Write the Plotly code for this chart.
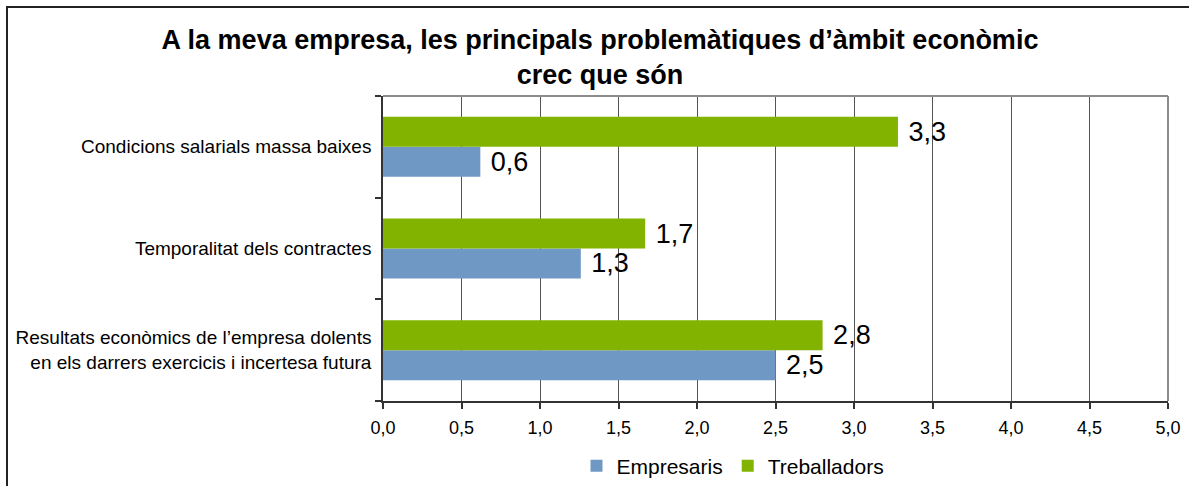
import plotly.graph_objects as go

# Categories listed bottom-to-top (Plotly category axes grow upward)
categories = [
    "Resultats econòmics de l’empresa dolents<br>en els darrers exercicis i incertesa futura",
    "Temporalitat dels contractes",
    "Condicions salarials massa baixes",
]
empresaris = [2.50, 1.26, 0.62]
treballadors = [2.80, 1.67, 3.28]
series_names = ["Empresaris", "Treballadors"]
x_ticks = [0, 0.5, 1, 1.5, 2, 2.5, 3, 3.5, 4, 4.5, 5]

FONT = "Liberation Sans, Arial, sans-serif"
W, H = 1189, 486
ML, MR, MT, MB = 383, 21, 96, 85
PW, PH = W - ML - MR, H - MT - MB

blue = "#7098c4"
green = "#82b300"

fig = go.Figure()
for name, vals, col in [(series_names[0], empresaris, blue), (series_names[1], treballadors, green)]:
    fig.add_trace(go.Bar(
        y=categories, x=vals, name=name, orientation="h",
        marker=dict(color=col, line=dict(width=0)),
        texttemplate="\u00a0%{x:.1f}", textposition="outside",
        textfont=dict(family=FONT, size=27, color="#000000"),
        constraintext="none", cliponaxis=False,
    ))

def px_to_paper_x(px):
    return (px - ML) / PW

def px_to_paper_y(py):
    return (H - MB - py) / PH

shapes = [
    # outer chart border (top & left visible; others fall outside the image)
    dict(type="rect", xref="paper", yref="paper",
         x0=px_to_paper_x(7), x1=px_to_paper_x(W + 10),
         y0=px_to_paper_y(H + 10), y1=px_to_paper_y(7),
         line=dict(color="#222222", width=2), fillcolor="rgba(0,0,0,0)", layer="above"),
    # plot-area border top and right
    dict(type="line", xref="paper", yref="paper", x0=0, x1=1, y0=1, y1=1,
         line=dict(color="#8c8c8c", width=2), layer="above"),
    dict(type="line", xref="paper", yref="paper", x0=1, x1=1, y0=0, y1=1,
         line=dict(color="#8c8c8c", width=2), layer="above"),
]

fig.update_layout(
    width=W, height=H,
    margin=dict(l=ML, r=MR, t=MT, b=MB, autoexpand=False),
    paper_bgcolor="white", plot_bgcolor="white",
    separators=", ",
    barmode="group", bargap=0.41, bargroupgap=0,
    font=dict(family=FONT, color="#000000"),
    title=dict(
        text="<b>A la meva empresa, les principals problemàtiques d’àmbit econòmic<br>crec que són</b>",
        font=dict(family=FONT, size=27, color="#000000"),
        x=600 / W, xanchor="center", xref="container",
        y=1 - 49 / H, yanchor="top", yref="container",
    ),
    xaxis=dict(
        range=[0, 5], tickvals=x_ticks, tickformat=".1f",
        showgrid=True, gridcolor="#555555", gridwidth=1,
        showline=True, linecolor="#333333", linewidth=1.5,
        ticks="outside", ticklen=6, tickcolor="#333333", tickwidth=1.5,
        tickfont=dict(family=FONT, size=18, color="#000000"),
        ticklabelstandoff=4, zeroline=False, automargin=False, fixedrange=True,
    ),
    yaxis=dict(
        type="category", categoryorder="array", categoryarray=categories,
        showgrid=False, showline=True, linecolor="#333333", linewidth=1.5,
        ticks="outside", tickson="boundaries", ticklen=6, tickcolor="#333333", tickwidth=1.5,
        tickfont=dict(family=FONT, size=19, color="#000000"),
        ticklabelstandoff=6, automargin=False, fixedrange=True,
    ),
    legend=dict(
        orientation="h", x=px_to_paper_x(733), xanchor="center",
        y=px_to_paper_y(466), yanchor="middle",
        font=dict(family=FONT, size=21, color="#000000"),
        bgcolor="rgba(0,0,0,0)", itemwidth=30,
    ),
    showlegend=True,
    shapes=shapes,
)

fig.write_html("out.html", config={"displayModeBar": False},
               post_script="document.body.style.margin='0px';")
